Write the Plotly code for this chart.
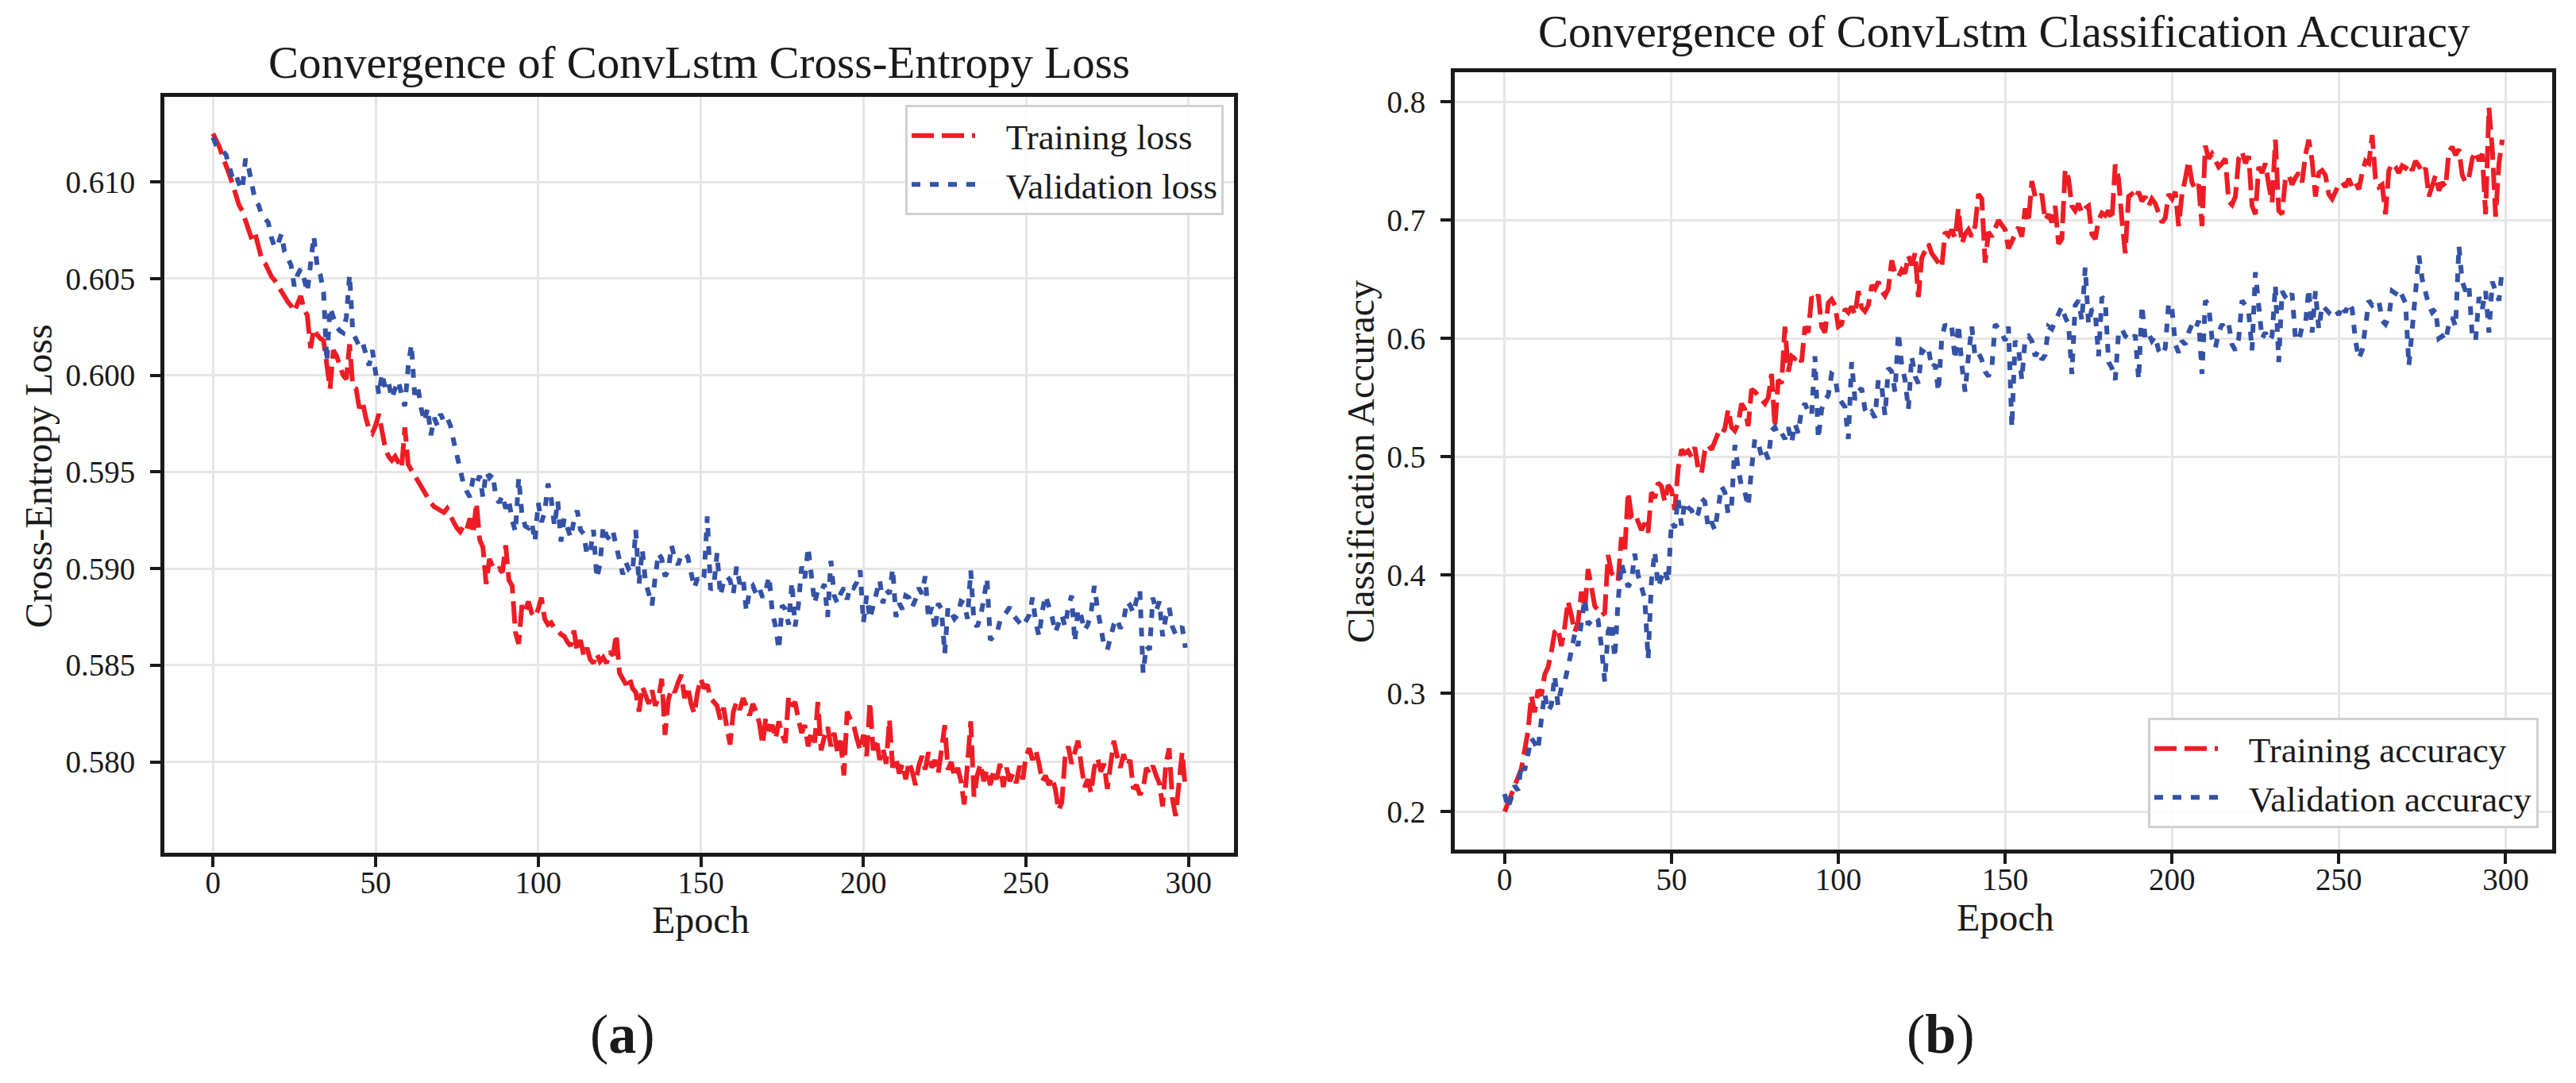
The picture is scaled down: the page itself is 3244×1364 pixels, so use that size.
import plotly.graph_objects as go

W, H = 3244, 1364

epochs = list(range(300))

train_loss = [
    0.6125, 0.6122, 0.6118, 0.6113, 0.6109, 0.6104, 0.6099, 0.6094, 0.6088, 0.6085,
    0.6080, 0.6076, 0.6070, 0.6073, 0.6066, 0.6060, 0.6058, 0.6054, 0.6051, 0.6049,
    0.6046, 0.6044, 0.6041, 0.6038, 0.6036, 0.6033, 0.6037, 0.6041, 0.6034, 0.6031,
    0.6014, 0.6024, 0.6021, 0.6019, 0.6018, 0.6007, 0.5993, 0.6013, 0.6010, 0.6005,
    0.6000, 0.5998, 0.6016, 0.5994, 0.5993, 0.5983, 0.5986, 0.5978, 0.5972, 0.5970,
    0.5974, 0.5980, 0.5969, 0.5962, 0.5958, 0.5956, 0.5958, 0.5955, 0.5952, 0.5973,
    0.5954, 0.5951, 0.5948, 0.5945, 0.5942, 0.5939, 0.5936, 0.5934, 0.5932, 0.5931,
    0.5930, 0.5929, 0.5931, 0.5927, 0.5924, 0.5921, 0.5919, 0.5922, 0.5920, 0.5926,
    0.5918, 0.5934, 0.5915, 0.5911, 0.5892, 0.5905, 0.5901, 0.5899, 0.5900, 0.5898,
    0.5912, 0.5894, 0.5891, 0.5867, 0.5861, 0.5881, 0.5878, 0.5883, 0.5877, 0.5875,
    0.5879, 0.5885, 0.5874, 0.5871, 0.5872, 0.5869, 0.5868, 0.5866, 0.5865, 0.5862,
    0.5860, 0.5868, 0.5857, 0.5863, 0.5855, 0.5859, 0.5853, 0.5851, 0.5856, 0.5852,
    0.5854, 0.5851, 0.5857, 0.5855, 0.5866, 0.5846, 0.5843, 0.5840, 0.5844, 0.5838,
    0.5836, 0.5826, 0.5839, 0.5834, 0.5830, 0.5837, 0.5829, 0.5833, 0.5843, 0.5814,
    0.5832, 0.5838, 0.5836, 0.5841, 0.5845, 0.5833, 0.5839, 0.5830, 0.5825, 0.5836,
    0.5843, 0.5838, 0.5840, 0.5833, 0.5831, 0.5829, 0.5822, 0.5828, 0.5818, 0.5809,
    0.5826, 0.5831, 0.5827, 0.5833, 0.5829, 0.5824, 0.5830, 0.5826, 0.5820, 0.5809,
    0.5823, 0.5816, 0.5819, 0.5812, 0.5821, 0.5814, 0.5810, 0.5834, 0.5829, 0.5831,
    0.5822, 0.5815, 0.5819, 0.5808, 0.5816, 0.5810, 0.5831, 0.5806, 0.5813, 0.5818,
    0.5808, 0.5815, 0.5805, 0.5811, 0.5793, 0.5826, 0.5822, 0.5819, 0.5812, 0.5806,
    0.5814, 0.5803, 0.5831, 0.5806, 0.5812, 0.5801, 0.5807, 0.5799, 0.5822, 0.5797,
    0.5802, 0.5794, 0.5799, 0.5791, 0.5800, 0.5795, 0.5788, 0.5798, 0.5803, 0.5796,
    0.5805, 0.5797, 0.5801, 0.5794, 0.5806, 0.5819, 0.5796, 0.5800, 0.5792, 0.5797,
    0.5790, 0.5778, 0.5799, 0.5821, 0.5782, 0.5793, 0.5799, 0.5790, 0.5796, 0.5788,
    0.5795, 0.5791, 0.5799, 0.5787, 0.5797, 0.5790, 0.5794, 0.5789, 0.5798, 0.5791,
    0.5803, 0.5807, 0.5801, 0.5806, 0.5799, 0.5790, 0.5793, 0.5788, 0.5792, 0.5786,
    0.5775, 0.5779, 0.5802, 0.5808, 0.5799, 0.5806, 0.5811, 0.5798, 0.5787, 0.5791,
    0.5784, 0.5797, 0.5802, 0.5795, 0.5799, 0.5786, 0.5801, 0.5811, 0.5803, 0.5797,
    0.5804, 0.5798, 0.5801, 0.5786, 0.5788, 0.5783, 0.5786, 0.5797, 0.5794, 0.5798,
    0.5793, 0.5789, 0.5777, 0.5799, 0.5807, 0.5781, 0.5772, 0.5790, 0.5805, 0.5786,
]

val_loss = [
    0.6123, 0.6119, 0.6117, 0.6116, 0.6114, 0.6107, 0.6102, 0.6104, 0.6099, 0.6096,
    0.6112, 0.6107, 0.6097, 0.6090, 0.6088, 0.6083, 0.6081, 0.6079, 0.6071, 0.6066,
    0.6068, 0.6073, 0.6064, 0.6061, 0.6057, 0.6046, 0.6052, 0.6055, 0.6050, 0.6043,
    0.6060, 0.6072, 0.6057, 0.6052, 0.6043, 0.6007, 0.6035, 0.6030, 0.6025, 0.6023,
    0.6022, 0.6030, 0.6052, 0.6022, 0.6019, 0.6015, 0.6017, 0.6010, 0.6005, 0.6013,
    0.5999, 0.5990, 0.6001, 0.5993, 0.5996, 0.5988, 0.5993, 0.5997, 0.5990, 0.5984,
    0.6004, 0.6016, 0.5990, 0.5994, 0.5983, 0.5976, 0.5983, 0.5969, 0.5978, 0.5974,
    0.5980, 0.5976, 0.5978, 0.5974, 0.5966, 0.5958, 0.5952, 0.5944, 0.5940, 0.5937,
    0.5947, 0.5944, 0.5948, 0.5937, 0.5950, 0.5947, 0.5949, 0.5937, 0.5934, 0.5938,
    0.5931, 0.5935, 0.5925, 0.5919, 0.5947, 0.5928, 0.5922, 0.5921, 0.5924, 0.5914,
    0.5934, 0.5924, 0.5929, 0.5944, 0.5936, 0.5922, 0.5935, 0.5914, 0.5926, 0.5921,
    0.5916, 0.5925, 0.5930, 0.5920, 0.5918, 0.5907, 0.5909, 0.5920, 0.5895, 0.5902,
    0.5922, 0.5917, 0.5915, 0.5919, 0.5911, 0.5905, 0.5897, 0.5903, 0.5899, 0.5898,
    0.5920, 0.5892, 0.5910, 0.5893, 0.5886, 0.5881, 0.5896, 0.5908, 0.5905, 0.5896,
    0.5899, 0.5912, 0.5905, 0.5902, 0.5907, 0.5908, 0.5906, 0.5897, 0.5890, 0.5895,
    0.5893, 0.5896, 0.5927, 0.5889, 0.5891, 0.5908, 0.5886, 0.5893, 0.5896, 0.5894,
    0.5887, 0.5901, 0.5892, 0.5895, 0.5878, 0.5889, 0.5891, 0.5887, 0.5890, 0.5885,
    0.5889, 0.5896, 0.5877, 0.5870, 0.5858, 0.5881, 0.5879, 0.5871, 0.5893, 0.5870,
    0.5881, 0.5901, 0.5895, 0.5911, 0.5895, 0.5882, 0.5889, 0.5888, 0.5892, 0.5875,
    0.5904, 0.5886, 0.5882, 0.5887, 0.5890, 0.5884, 0.5891, 0.5890, 0.5893, 0.5899,
    0.5872, 0.5886, 0.5874, 0.5881, 0.5888, 0.5894, 0.5882, 0.5889, 0.5887, 0.5900,
    0.5875, 0.5882, 0.5879, 0.5886, 0.5885, 0.5880, 0.5884, 0.5890, 0.5887, 0.5896,
    0.5874, 0.5880, 0.5868, 0.5882, 0.5879, 0.5856, 0.5880, 0.5877, 0.5874, 0.5876,
    0.5883, 0.5882, 0.5874, 0.5899, 0.5872, 0.5870, 0.5875, 0.5884, 0.5895, 0.5863,
    0.5865, 0.5866, 0.5873, 0.5875, 0.5878, 0.5880, 0.5876, 0.5874, 0.5872, 0.5870,
    0.5873, 0.5876, 0.5885, 0.5872, 0.5865, 0.5878, 0.5886, 0.5881, 0.5875, 0.5867,
    0.5872, 0.5876, 0.5870, 0.5880, 0.5886, 0.5862, 0.5879, 0.5875, 0.5868, 0.5871,
    0.5877, 0.5891, 0.5879, 0.5870, 0.5860, 0.5858, 0.5866, 0.5871, 0.5874, 0.5869,
    0.5873, 0.5883, 0.5881, 0.5877, 0.5884, 0.5889, 0.5846, 0.5860, 0.5858, 0.5885,
    0.5878, 0.5883, 0.5865, 0.5875, 0.5880, 0.5870, 0.5866, 0.5868, 0.5870, 0.5859,
]

train_acc = [
    0.200, 0.208, 0.214, 0.222, 0.229, 0.236, 0.252, 0.268, 0.298, 0.284,
    0.303, 0.298, 0.316, 0.322, 0.335, 0.352, 0.355, 0.340, 0.356, 0.378,
    0.366, 0.352, 0.360, 0.386, 0.370, 0.405, 0.390, 0.374, 0.370, 0.366,
    0.368, 0.417, 0.402, 0.398, 0.395, 0.432, 0.420, 0.470, 0.450, 0.452,
    0.445, 0.438, 0.444, 0.436, 0.470, 0.465, 0.478, 0.475, 0.462, 0.476,
    0.472, 0.455, 0.490, 0.506, 0.503, 0.505, 0.500, 0.508, 0.490, 0.486,
    0.505, 0.510, 0.506, 0.512, 0.520, 0.518, 0.524, 0.540, 0.525, 0.522,
    0.528, 0.545, 0.540, 0.526, 0.557, 0.555, 0.552, 0.548, 0.545, 0.550,
    0.570, 0.525, 0.565, 0.562, 0.610, 0.572, 0.585, 0.583, 0.586, 0.580,
    0.610, 0.605, 0.635, 0.632, 0.637, 0.610, 0.605, 0.630, 0.633, 0.628,
    0.610, 0.612, 0.625, 0.622, 0.627, 0.620, 0.640, 0.626, 0.623, 0.628,
    0.645, 0.642, 0.648, 0.640, 0.636, 0.642, 0.666, 0.655, 0.652, 0.658,
    0.655, 0.670, 0.662, 0.672, 0.635, 0.668, 0.675, 0.680, 0.672, 0.668,
    0.665, 0.660, 0.690, 0.687, 0.692, 0.685, 0.710, 0.680, 0.688, 0.692,
    0.686, 0.695, 0.722, 0.718, 0.664, 0.690, 0.686, 0.694, 0.700, 0.696,
    0.692, 0.676, 0.682, 0.690, 0.694, 0.686, 0.710, 0.698, 0.733, 0.720,
    0.718, 0.722, 0.700, 0.705, 0.698, 0.712, 0.680, 0.684, 0.743, 0.735,
    0.712, 0.708, 0.714, 0.706, 0.710, 0.712, 0.688, 0.684, 0.700, 0.706,
    0.704, 0.708, 0.700, 0.747, 0.735, 0.700, 0.672, 0.720, 0.722, 0.718,
    0.724, 0.716, 0.720, 0.712, 0.718, 0.714, 0.705, 0.698, 0.702, 0.722,
    0.718, 0.724, 0.695, 0.722, 0.735, 0.750, 0.732, 0.726, 0.730, 0.695,
    0.763, 0.752, 0.756, 0.750, 0.745, 0.748, 0.752, 0.716, 0.713, 0.720,
    0.752, 0.758, 0.748, 0.754, 0.712, 0.705, 0.745, 0.740, 0.748, 0.730,
    0.715, 0.768, 0.708, 0.705, 0.735, 0.738, 0.730, 0.736, 0.740, 0.732,
    0.755, 0.768, 0.750, 0.720, 0.740, 0.742, 0.738, 0.722, 0.718, 0.724,
    0.730, 0.732, 0.728, 0.735, 0.728, 0.732, 0.726, 0.740, 0.750, 0.748,
    0.772, 0.735, 0.728, 0.730, 0.705, 0.742, 0.748, 0.745, 0.740, 0.746,
    0.744, 0.748, 0.742, 0.750, 0.746, 0.740, 0.744, 0.720, 0.730, 0.738,
    0.725, 0.732, 0.728, 0.758, 0.762, 0.755, 0.760, 0.738, 0.732, 0.736,
    0.752, 0.758, 0.750, 0.756, 0.705, 0.795, 0.760, 0.703, 0.748, 0.768,
]

val_acc = [
    0.215, 0.203, 0.212, 0.222, 0.218, 0.240, 0.235, 0.248, 0.262, 0.258,
    0.252, 0.278, 0.300, 0.285, 0.290, 0.315, 0.290, 0.305, 0.310, 0.322,
    0.335, 0.350, 0.340, 0.360, 0.380, 0.358, 0.362, 0.365, 0.362, 0.340,
    0.310, 0.352, 0.360, 0.330, 0.378, 0.410, 0.400, 0.390, 0.395, 0.418,
    0.400, 0.390, 0.380, 0.329, 0.395, 0.420, 0.390, 0.398, 0.405, 0.394,
    0.445, 0.440, 0.465, 0.442, 0.462, 0.457, 0.455, 0.448, 0.452, 0.465,
    0.462, 0.440, 0.445, 0.438, 0.455, 0.475, 0.470, 0.452, 0.458, 0.510,
    0.490, 0.475, 0.470, 0.458, 0.490, 0.515, 0.512, 0.500, 0.505, 0.498,
    0.522, 0.525, 0.518, 0.520, 0.515, 0.525, 0.512, 0.528, 0.520, 0.540,
    0.545, 0.538, 0.535, 0.585, 0.515, 0.540, 0.548, 0.552, 0.570, 0.568,
    0.550, 0.545, 0.542, 0.515, 0.580, 0.548, 0.555, 0.558, 0.540, 0.535,
    0.538, 0.533, 0.565, 0.560, 0.535, 0.575, 0.572, 0.555, 0.605, 0.578,
    0.565, 0.540, 0.585, 0.568, 0.562, 0.590, 0.588, 0.592, 0.575, 0.578,
    0.555, 0.600, 0.612, 0.608, 0.610, 0.582, 0.612, 0.578, 0.555, 0.585,
    0.610, 0.585, 0.588, 0.582, 0.572, 0.568, 0.575, 0.612, 0.608, 0.605,
    0.598, 0.610, 0.525, 0.598, 0.592, 0.565, 0.600, 0.602, 0.598, 0.585,
    0.590, 0.582, 0.586, 0.610, 0.608, 0.615, 0.622, 0.627, 0.618, 0.612,
    0.570, 0.628, 0.632, 0.615, 0.660, 0.612, 0.625, 0.622, 0.585, 0.635,
    0.632, 0.580, 0.575, 0.565, 0.605, 0.608, 0.602, 0.600, 0.598, 0.603,
    0.565, 0.628, 0.600, 0.604, 0.598, 0.602, 0.590, 0.586, 0.592, 0.630,
    0.625, 0.595, 0.588, 0.598, 0.595, 0.605, 0.612, 0.608, 0.615, 0.570,
    0.632, 0.628, 0.600, 0.592, 0.605, 0.612, 0.608, 0.612, 0.595, 0.590,
    0.600, 0.632, 0.628, 0.622, 0.590, 0.656, 0.625, 0.600, 0.605, 0.598,
    0.602, 0.645, 0.580, 0.640, 0.635, 0.632, 0.638, 0.600, 0.598, 0.610,
    0.612, 0.642, 0.605, 0.640, 0.608, 0.628, 0.625, 0.622, 0.626, 0.624,
    0.620, 0.628, 0.622, 0.630, 0.625, 0.598, 0.583, 0.590, 0.610, 0.632,
    0.628, 0.630, 0.632, 0.615, 0.612, 0.618, 0.640, 0.638, 0.642, 0.636,
    0.630, 0.577, 0.605, 0.635, 0.670, 0.650, 0.640, 0.628, 0.622, 0.625,
    0.600, 0.602, 0.598, 0.612, 0.618, 0.610, 0.678, 0.648, 0.640, 0.645,
    0.602, 0.598, 0.635, 0.625, 0.640, 0.605, 0.648, 0.640, 0.632, 0.660,
]

loss_ticks = [0.580, 0.585, 0.590, 0.595, 0.600, 0.605, 0.610]
acc_ticks = [0.2, 0.3, 0.4, 0.5, 0.6, 0.7, 0.8]
epoch_ticks = [0, 50, 100, 150, 200, 250, 300]

RED = "#ee1d25"
BLUE = "#3452a6"
FONT = "Liberation Serif, Times New Roman, serif"
TXT = "#1a1a1a"
PAD = "\u00a0\u00a0\u00a0"

def px(x):
    return x / W

def py(y):
    return 1 - y / H

fig = go.Figure()

fig.add_trace(go.Scatter(x=epochs, y=train_loss, mode="lines", name=PAD + "Training loss",
                         line=dict(color=RED, width=6, dash="28px,10px"),
                         xaxis="x", yaxis="y", legend="legend"))
fig.add_trace(go.Scatter(x=epochs, y=val_loss, mode="lines", name=PAD + "Validation loss",
                         line=dict(color=BLUE, width=6, dash="11px,12px"),
                         xaxis="x", yaxis="y", legend="legend"))
fig.add_trace(go.Scatter(x=epochs, y=train_acc, mode="lines", name=PAD + "Training accuracy",
                         line=dict(color=RED, width=6, dash="28px,10px"),
                         xaxis="x2", yaxis="y2", legend="legend2"))
fig.add_trace(go.Scatter(x=epochs, y=val_acc, mode="lines", name=PAD + "Validation accuracy",
                         line=dict(color=BLUE, width=6, dash="11px,12px"),
                         xaxis="x2", yaxis="y2", legend="legend2"))

axis_common = dict(
    showline=True, linewidth=5, linecolor="#1a1a1a", mirror=True,
    ticks="outside", ticklen=13, tickwidth=4, tickcolor="#1a1a1a",
    showgrid=True, gridcolor="#e6e6e6", gridwidth=3, zeroline=False,
    tickfont=dict(family=FONT, size=39, color=TXT),
)

fig.update_layout(
    width=W, height=H,
    margin=dict(l=0, r=0, t=0, b=0),
    paper_bgcolor="white", plot_bgcolor="white",
    font=dict(family=FONT, color=TXT),
    xaxis=dict(domain=[px(199), px(1546)], range=[-14.95, 313.95],
               tickvals=epoch_ticks, anchor="y", ticklabelstandoff=-14, **axis_common),
    yaxis=dict(domain=[py(1066), py(114)], range=[0.5753, 0.6144],
               tickvals=loss_ticks, tickformat=".3f", anchor="x", ticklabelstandoff=11, **axis_common),
    xaxis2=dict(domain=[px(1824), px(3206)], range=[-14.95, 313.95],
                tickvals=epoch_ticks, anchor="y2", ticklabelstandoff=-14, **axis_common),
    yaxis2=dict(domain=[py(1062), py(83)], range=[0.168, 0.825],
                tickvals=acc_ticks, tickformat=".1f", anchor="x2", ticklabelstandoff=11, **axis_common),
    legend=dict(x=px(1132), y=py(124), xanchor="left", yanchor="top",
                bgcolor="rgba(255,255,255,0.85)", bordercolor="#d0d0d0", borderwidth=3,
                font=dict(family=FONT, size=45, color=TXT), itemwidth=80,
                tracegroupgap=0),
    legend2=dict(x=px(2697), y=py(896), xanchor="left", yanchor="top",
                 bgcolor="rgba(255,255,255,0.85)", bordercolor="#d0d0d0", borderwidth=3,
                 font=dict(family=FONT, size=45, color=TXT), itemwidth=80,
                 tracegroupgap=0),
    showlegend=True,
)

annos = [
    dict(text="Convergence of ConvLstm Cross-Entropy Loss", x=px(872), y=py(71), size=57, angle=0),
    dict(text="Convergence of ConvLstm Classification Accuracy", x=px(2516), y=py(32), size=57, angle=0),
    dict(text="Cross-Entropy Loss", x=px(40), y=py(592), size=48, angle=-90),
    dict(text="Classification Accuracy", x=px(1705), y=py(574), size=48, angle=-90),
    dict(text="Epoch", x=px(874), y=py(1150), size=48, angle=0),
    dict(text="Epoch", x=px(2517), y=py(1147), size=48, angle=0),
    dict(text="(<b>a</b>)", x=px(776), y=py(1294), size=70, angle=0),
    dict(text="(<b>b</b>)", x=px(2436), y=py(1294), size=70, angle=0),
]
for a in annos:
    fig.add_annotation(text=a["text"], x=a["x"], y=a["y"], xref="paper", yref="paper",
                       xanchor="center", yanchor="middle", showarrow=False,
                       textangle=a["angle"], font=dict(family=FONT, size=a["size"], color=TXT))

fig.write_html("out.html")
